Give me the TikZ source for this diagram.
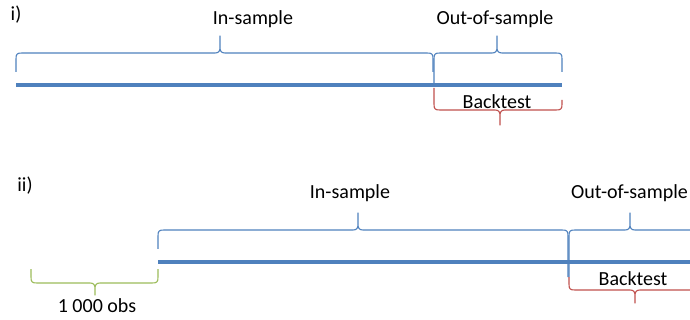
\documentclass[tikz,border=0pt]{standalone}
\usepackage{fontspec}
\setmainfont{Carlito}
\definecolor{oblue}{HTML}{4F81BD}
\definecolor{ored}{HTML}{C0504D}
\definecolor{ogreen}{HTML}{9BBB59}
\newcommand\mybrace[8]{%
  \pgfmathsetmacro\dd{(#8-#7)/abs(#8-#7)}%
  \draw[bracestyle,#1] (#2,#5) -- (#2,{#7-\dd*6}) .. controls (#2,{#7-\dd*1}) and ({#2+1},#7) .. ({#2+6},#7)
    -- ({#4-5},#7) .. controls ({#4-1},#7) and (#4,{#7+\dd*2}) .. (#4,{#7+\dd*6}) -- (#4,#8)
    -- (#4,{#7+\dd*6}) .. controls (#4,{#7+\dd*2}) and ({#4+1},#7) .. ({#4+5},#7)
    -- ({#3-6},#7) .. controls ({#3-1},#7) and (#3,{#7-\dd*1}) .. (#3,{#7-\dd*6}) -- (#3,#6);}
\tikzset{
  bracestyle/.style={line width=1.1pt, line join=round},
  timeline/.style={oblue, line width=4pt},
  lbl/.style={font=\fontsize{20}{24}\selectfont, inner sep=0pt, text=black},
}
\begin{document}
\begin{tikzpicture}[x=1pt,y=-1pt]
\useasboundingbox (0,0) rectangle (690,320);
\clip (0,0) rectangle (690,320);
% panel i
\node[lbl] (pi) at (16,15) {i)};
\coordinate (l1a) at (16,85);
\coordinate (l1b) at (562,85);
\draw[timeline] (l1a) -- (l1b);
\mybrace{oblue}{16}{433}{220}{72}{72}{53}{36}
\mybrace{oblue}{434}{562}{497}{85}{72}{53}{36}
\mybrace{ored}{434}{562}{500}{88}{100}{110}{125}
\node[lbl] (is1) at (253,19) {In-sample};
\node[lbl] (os1) at (495,19) {Out-of-sample};
\node[lbl] (bt1) at (497,102) {Backtest};
% panel ii
\node[lbl] (pii) at (25,186) {ii)};
\coordinate (l2a) at (158,262);
\coordinate (l2b) at (700,262);
\draw[timeline] (l2a) -- (l2b);
\mybrace{ogreen}{31}{158}{95}{269}{269}{283}{295}
\mybrace{oblue}{158}{568}{358}{249}{277}{230}{213}
\mybrace{oblue}{569}{760}{630}{277}{277}{230}{213}
\mybrace{ored}{569}{760}{635}{277}{277}{290}{303}
\node[lbl] (is2) at (350,193) {In-sample};
\node[lbl, anchor=west] (os2) at (571,193) {Out-of-sample};
\node[lbl] (bt2) at (633,279) {Backtest};
\node[lbl] (obs) at (97,306) {1 000 obs};
\end{tikzpicture}
\end{document}
